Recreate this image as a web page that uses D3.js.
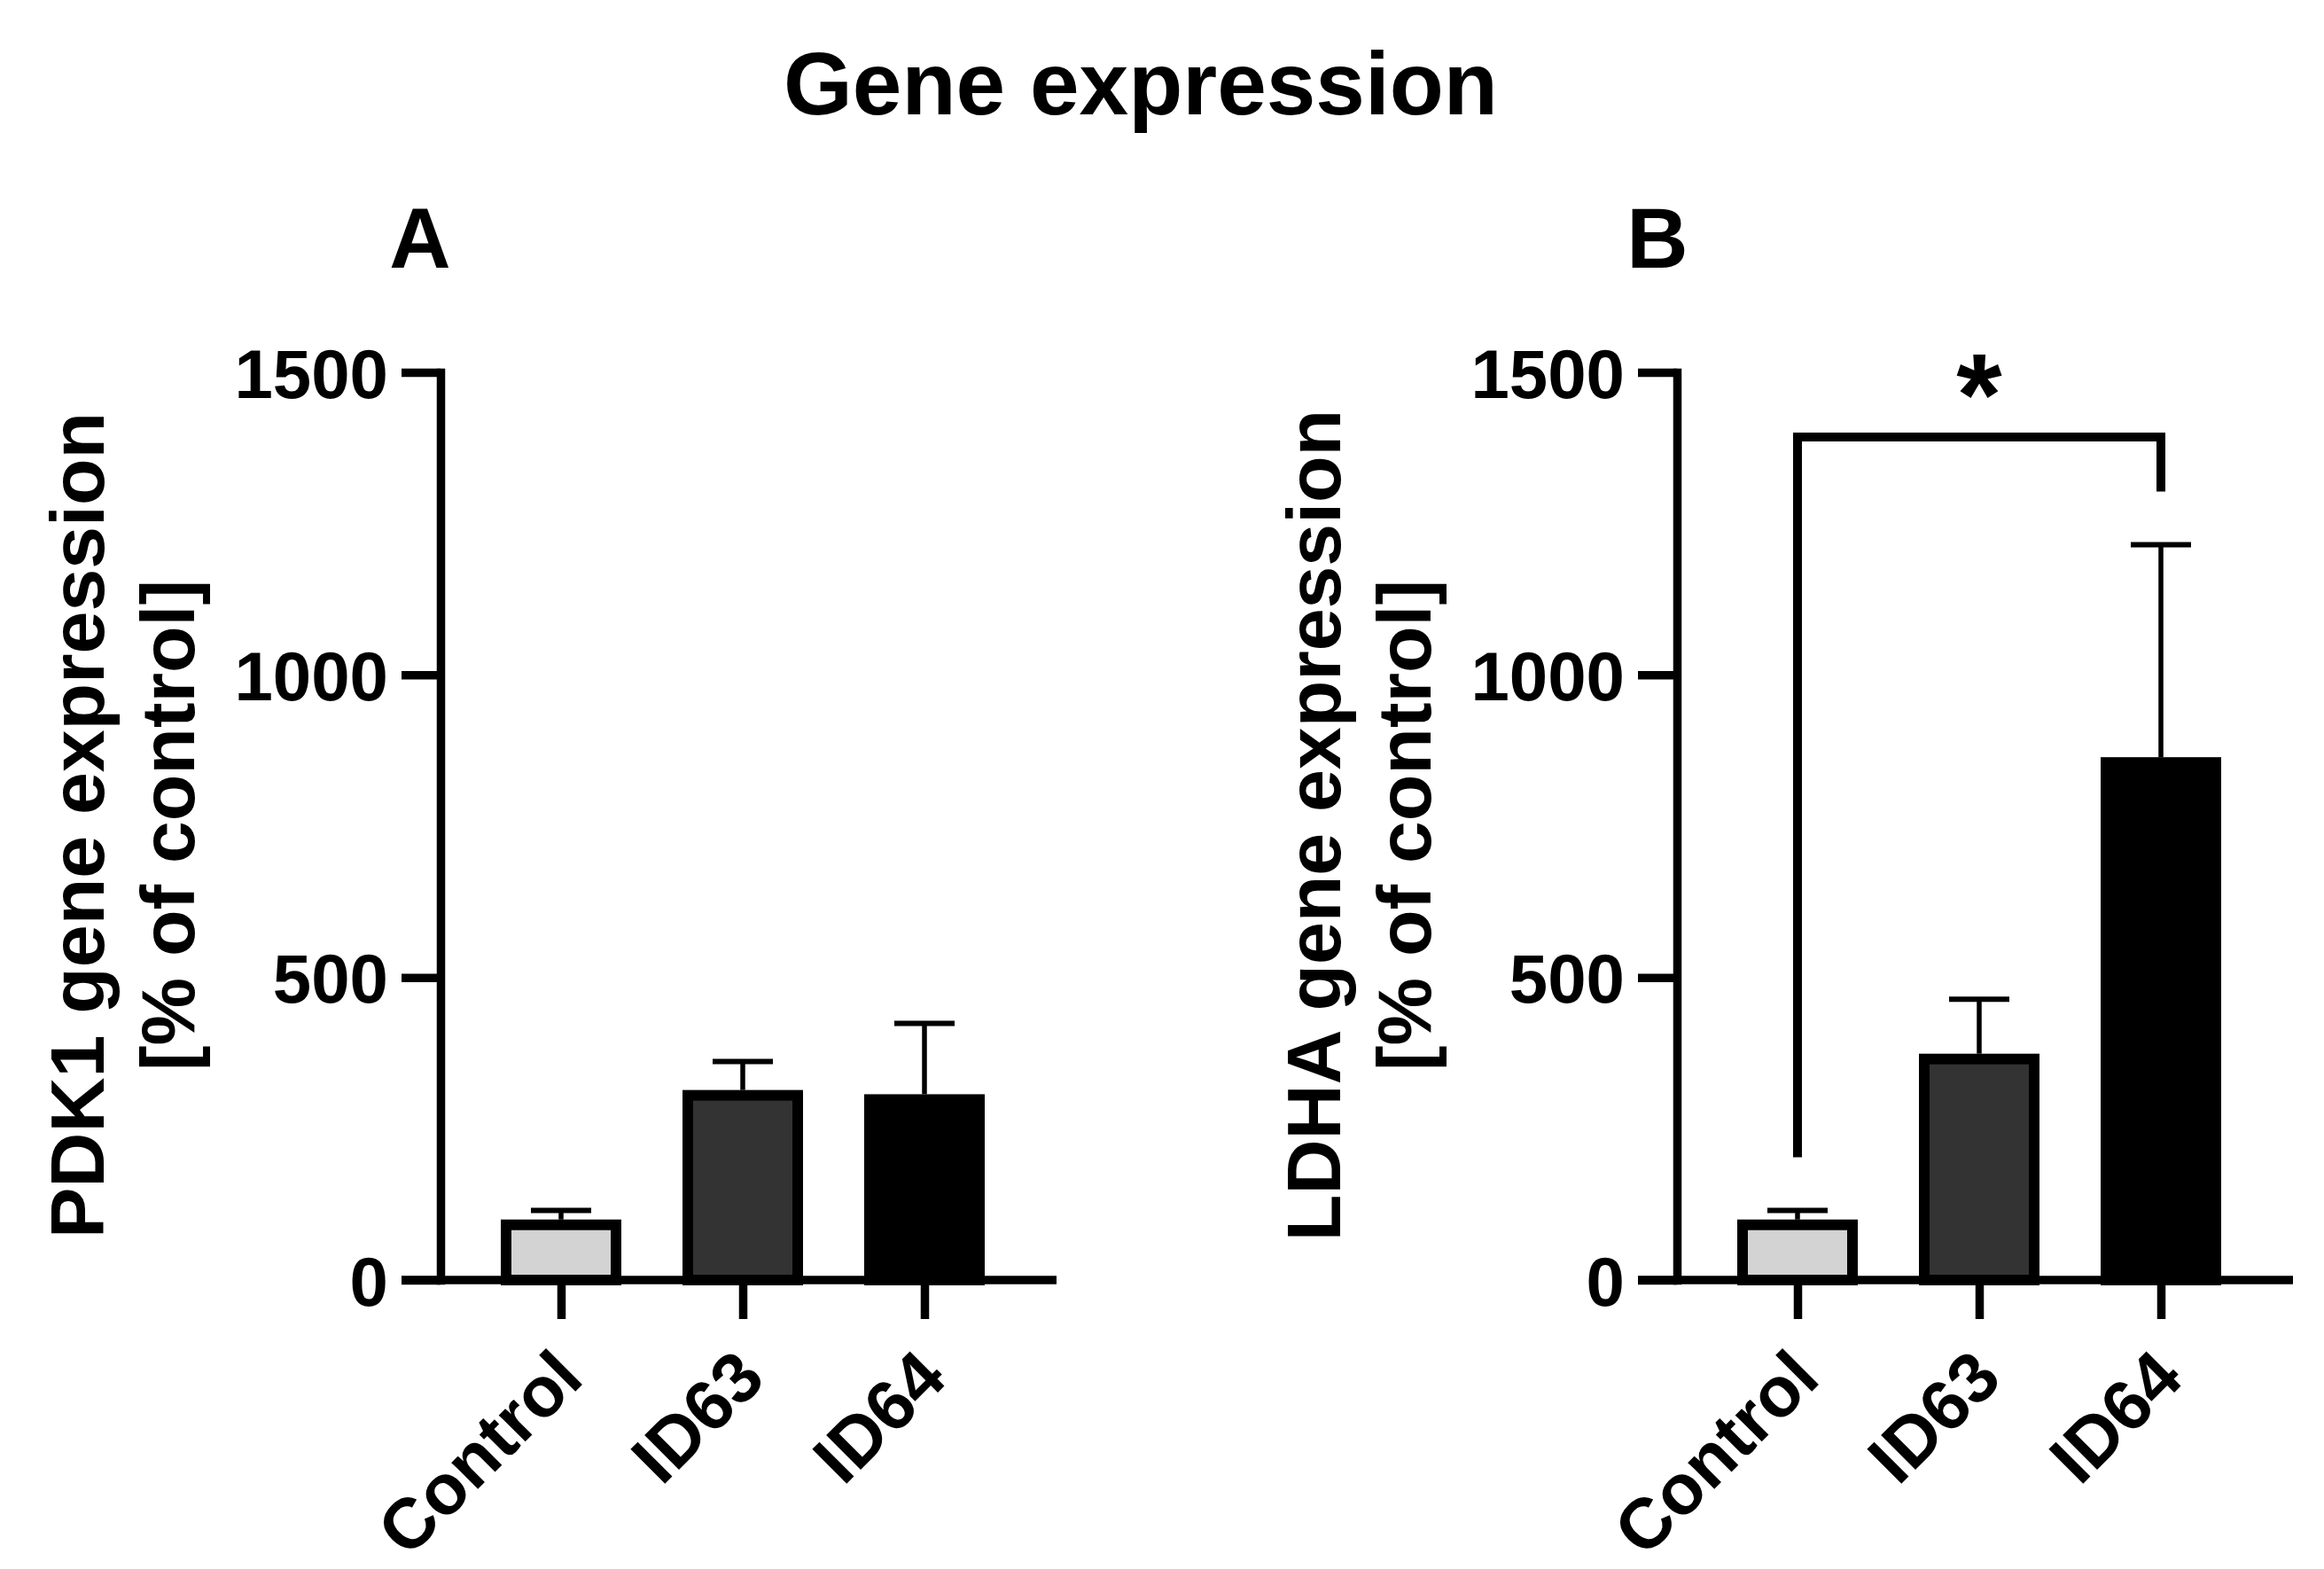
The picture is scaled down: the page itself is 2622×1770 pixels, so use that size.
<!DOCTYPE html>
<html>
<head>
<meta charset="utf-8">
<script src="https://cdn.jsdelivr.net/npm/d3@7"></script>
<style>
  html, body { margin: 0; padding: 0; background: #fff; }
  svg { display: block; }
  text { font-family: "Liberation Sans", Arial, Helvetica, sans-serif; font-weight: bold; fill: #000; }
</style>
</head>
<body>
<svg id="chart" width="2622" height="1770"></svg>
<script>
// ---------------- data ----------------
const chartTitle = "Gene expression";
const categories = ["Control", "ID63", "ID64"];
const barColors = ["#d3d3d3", "#333333", "#000000"];
const yTicks = [0, 500, 1000, 1500];
const yDomain = [0, 1500];

const panelLabels = ["A", "B"];
const yTitlesA = ["PDK1 gene expression", "[% of control]"];
const yTitlesB = ["LDHA gene expression", "[% of control]"];

// mean and upper error (SD) per category
const pdk1Mean = [100, 314, 307];
const pdk1Err  = [15, 47, 117];
const ldhaMean = [100, 374, 864];
const ldhaErr  = [15, 90, 351];

// significance annotation (panel B)
const sigPair = ["Control", "ID64"];
const sigLevel = 1393;          // bracket height (data units)
const sigLegEnds = [203, 1303]; // lower ends of the bracket legs (data units)
const sigText = "*";

// ---------------- layout ----------------
const svg = d3.select("#chart");
svg.append("rect").attr("width", 2622).attr("height", 1770).attr("fill", "#fff");

const y = d3.scaleLinear().domain(yDomain).range([1444, 420]);

svg.append("text")
  .attr("x", 1287).attr("y", 129)
  .attr("text-anchor", "middle")
  .style("font-size", "100px")
  .text(chartTitle);

const panels = [
  { label: panelLabels[0], titles: yTitlesA, mean: pdk1Mean, err: pdk1Err, x0: 497, labelX: 474, sig: false },
  { label: panelLabels[1], titles: yTitlesB, mean: ldhaMean, err: ldhaErr, x0: 1892, labelX: 1870, sig: true }
];

const AXW = 9.5, TICK = 44, BARW = 136, BSTROKE = 12, CAPW = 68;

panels.forEach(p => {
  const g = svg.append("g");
  const x = d3.scalePoint().domain(categories).range([p.x0 + 136, p.x0 + 546]);
  const xEnd = p.x0 + 695;

  // panel letter
  g.append("text").attr("x", p.labelX).attr("y", 302)
    .attr("text-anchor", "middle").style("font-size", "96px").text(p.label);

  // y-axis title (two lines)
  p.titles.forEach((t, i) => {
    g.append("text")
      .attr("transform", `translate(${p.x0 - 380 + i * 102},931) rotate(-90)`)
      .attr("text-anchor", "middle")
      .style("font-size", "86px")
      .text(t);
  });

  // bars
  const data = categories.map((c, i) => ({ c, m: p.mean[i], e: p.err[i], col: barColors[i] }));
  g.selectAll("rect.bar").data(data).join("rect")
    .attr("class", "bar")
    .attr("x", d => x(d.c) - BARW / 2 + BSTROKE / 2)
    .attr("width", BARW - BSTROKE)
    .attr("y", d => y(d.m) + BSTROKE / 2)
    .attr("height", d => y(0) - y(d.m) - BSTROKE / 2)
    .attr("fill", d => d.col)
    .attr("stroke", "#000")
    .attr("stroke-width", BSTROKE);

  // error bars (upper only)
  g.selectAll("line.err").data(data).join("line")
    .attr("class", "err")
    .attr("x1", d => x(d.c)).attr("x2", d => x(d.c))
    .attr("y1", d => y(d.m)).attr("y2", d => y(d.m + d.e))
    .attr("stroke", "#000").attr("stroke-width", 5.5);
  g.selectAll("line.cap").data(data).join("line")
    .attr("class", "cap")
    .attr("x1", d => x(d.c) - CAPW / 2).attr("x2", d => x(d.c) + CAPW / 2)
    .attr("y1", d => y(d.m + d.e)).attr("y2", d => y(d.m + d.e))
    .attr("stroke", "#000").attr("stroke-width", 6);

  // y axis
  const yAxis = g.append("g").attr("transform", `translate(${p.x0},0)`)
    .call(d3.axisLeft(y).tickValues(yTicks).tickSize(TICK).tickSizeOuter(0).tickPadding(15).tickFormat(d3.format("d")));
  yAxis.select(".domain").attr("stroke-width", AXW).attr("stroke-linecap", "square");
  yAxis.selectAll(".tick line").attr("stroke-width", AXW);
  yAxis.selectAll(".tick text")
    .attr("dy", "0.36em")
    .style("font-size", "78px")
    .style("font-family", "'Liberation Sans', Arial, sans-serif")
    .style("font-weight", "bold");

  // x axis baseline
  g.append("path")
    .attr("d", d3.line()([[p.x0 - TICK, y(0)], [xEnd, y(0)]]))
    .attr("stroke", "#000").attr("stroke-width", AXW).attr("fill", "none");

  // x axis ticks and labels
  const xAxis = g.append("g").attr("transform", `translate(0,${y(0)})`)
    .call(d3.axisBottom(x).tickSize(TICK).tickSizeOuter(0).tickFormat(() => ""));
  xAxis.select(".domain").remove();
  xAxis.selectAll(".tick line").attr("stroke-width", AXW);

  g.selectAll("text.xlab").data(categories).join("text")
    .attr("class", "xlab")
    .attr("transform", d => `translate(${x(d) + 28},${y(0) + 114}) rotate(-45)`)
    .attr("text-anchor", "end")
    .style("font-size", "80px")
    .text(d => d);

  // significance bracket
  if (p.sig) {
    const xa = x(sigPair[0]), xb = x(sigPair[1]);
    g.append("path")
      .attr("d", d3.line()([[xa, y(sigLegEnds[0])], [xa, y(sigLevel)], [xb, y(sigLevel)], [xb, y(sigLegEnds[1])]]))
      .attr("fill", "none").attr("stroke", "#000").attr("stroke-width", 10)
      .attr("stroke-linejoin", "miter");
    g.append("text")
      .attr("x", (xa + xb) / 2).attr("y", y(sigLevel) - 2)
      .attr("text-anchor", "middle")
      .style("font-size", "132px")
      .text(sigText);
  }
});
</script>
</body>
</html>
